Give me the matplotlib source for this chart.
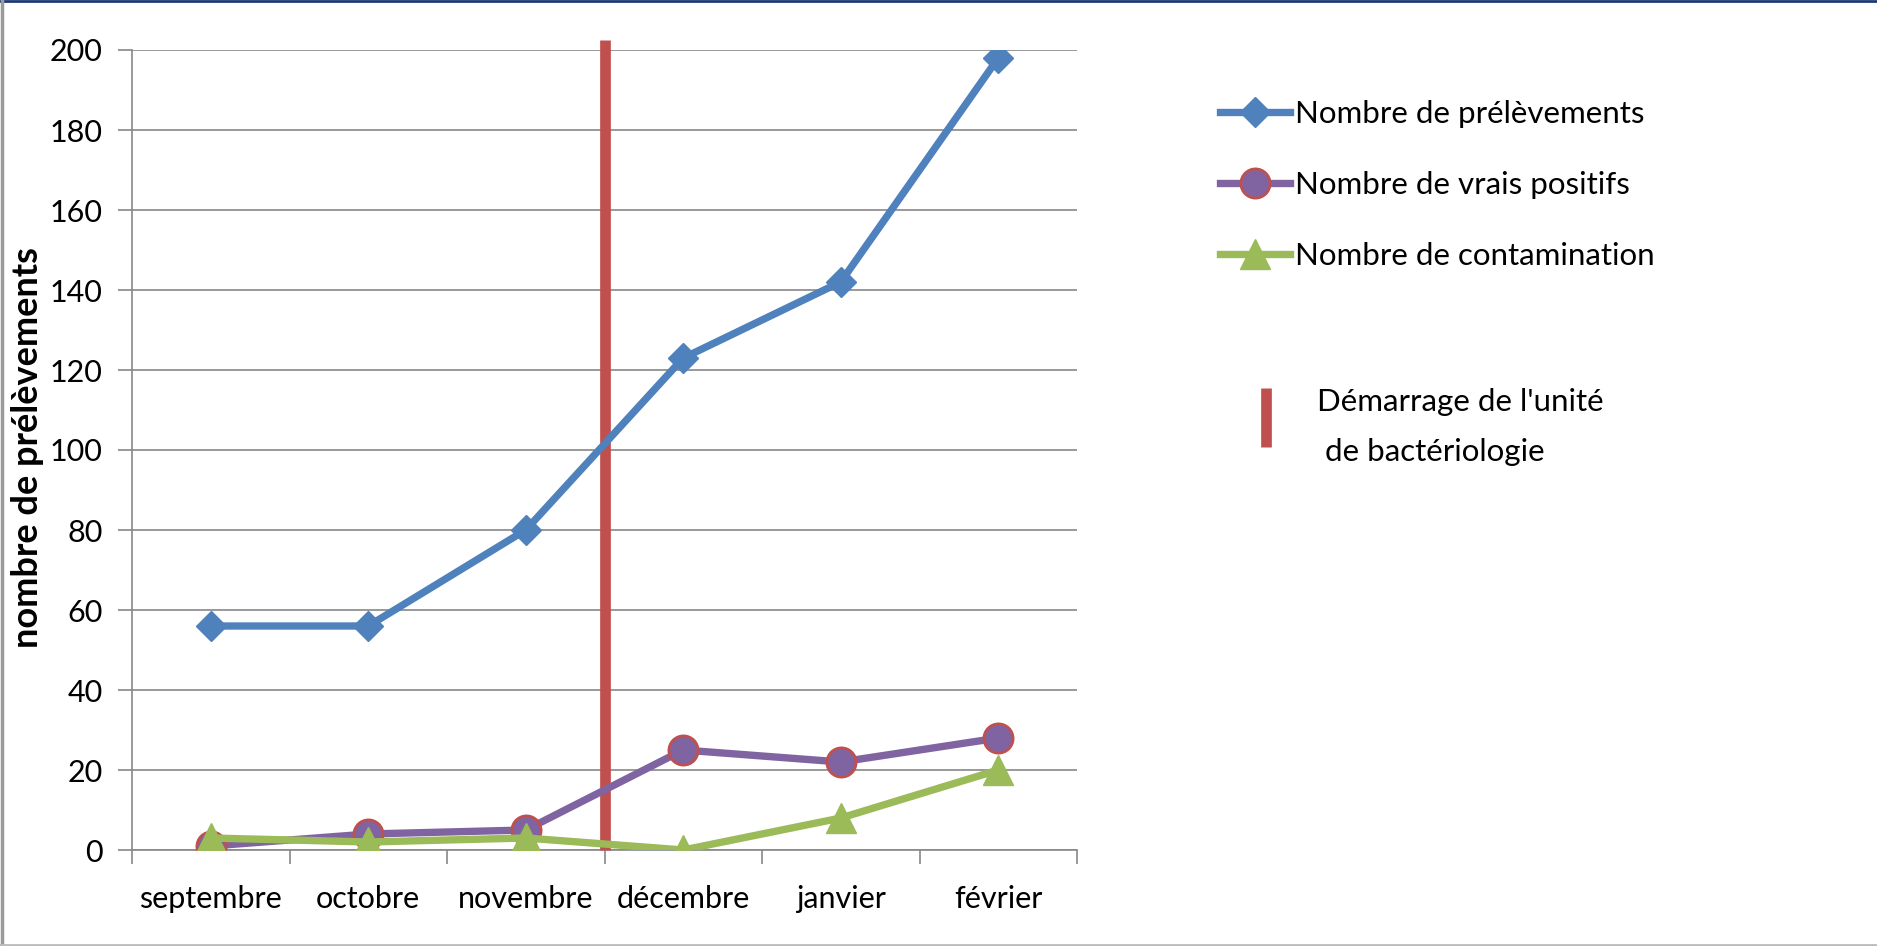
import matplotlib
matplotlib.use("Agg")
import matplotlib.pyplot as plt
from matplotlib.lines import Line2D

plt.rcParams['font.family'] = ['Lato', 'DejaVu Sans']

months = ["septembre", "octobre", "novembre", "décembre", "janvier", "février"]
prelevements = [56, 56, 80, 123, 142, 198]
vrais_positifs = [1, 4, 5, 25, 22, 28]
contamination = [3, 2, 3, 0, 8, 20]
yticks = [0, 20, 40, 60, 80, 100, 120, 140, 160, 180, 200]
start_position = 2.5  # between novembre and décembre

W, H = 1877, 946
fig = plt.figure(figsize=(W / 100, H / 100), dpi=100)
ax_l, ax_r, ax_b, ax_t = 132, 1077, 850, 50
ax = fig.add_axes([ax_l / W, 1 - ax_b / H, (ax_r - ax_l) / W, (ax_b - ax_t) / H])

x = list(range(len(months)))
blue, purple, green, red = "#4F81BD", "#8064A2", "#9BBB59", "#C0504D"
LW = 5.3

l1, = ax.plot(x, prelevements, color=blue, lw=LW, marker="D", ms=15.5,
              mfc=blue, mec=blue, label="Nombre de prélèvements", zorder=4)
l2, = ax.plot(x, vrais_positifs, color=purple, lw=LW, marker="o", ms=21,
              mfc=purple, mec=red, mew=2.0, label="Nombre de vrais positifs", zorder=5)
l3, = ax.plot(x, contamination, color=green, lw=LW, marker="^", ms=22,
              mfc=green, mec=green, label="Nombre de contamination", zorder=6)

ax.axvline(start_position, ymin=0, ymax=1.0125, color=red, lw=7.7, zorder=3,
           clip_on=False, solid_capstyle="butt")

ax.set_xlim(-0.5, len(months) - 0.5)
ax.set_ylim(0, 200)
ax.set_yticks(yticks)
ax.set_yticklabels([str(v) for v in yticks], fontsize=22)
ax.set_xticks([i - 0.5 for i in range(len(months) + 1)])
ax.set_xticklabels([])
ax.set_xticks(x, minor=True)
ax.set_xticklabels(months, minor=True, fontsize=22)
ax.tick_params(axis="x", which="minor", length=0, pad=25)
ax.tick_params(axis="x", which="major", length=10, width=1.2, color="#888888", direction="out")
ax.tick_params(axis="y", length=10, width=1.2, color="#888888", direction="out", pad=11)
ax.yaxis.grid(True, color="#888888", lw=1.2)
ax.set_axisbelow(True)
for s in ["top", "right"]:
    ax.spines[s].set_visible(False)
for s in ["left", "bottom"]:
    ax.spines[s].set_color("#888888")
    ax.spines[s].set_linewidth(1.2)

ax.set_ylabel("nombre de prélèvements", fontsize=26, fontweight="bold")
ax.yaxis.set_label_coords((44 - ax_l) / (ax_r - ax_l), (ax_b - 448) / (ax_b - ax_t))

fig.legend(handles=[l1, l2, l3], loc="upper left",
           bbox_to_anchor=(1220 / W, 1 - 100 / H), frameon=False,
           fontsize=22.5, handlelength=2.25, handletextpad=0.15,
           labelspacing=1.38, borderaxespad=0, borderpad=0)

fig.add_artist(Line2D([1266 / W, 1266 / W], [1 - 388 / H, 1 - 447 / H],
                      color=red, lw=7.7, solid_capstyle="butt", transform=fig.transFigure))
fig.text(1317 / W, 1 - 402 / H, "Démarrage de l'unité", fontsize=22.5, va="center", ha="left")
fig.text(1317 / W, 1 - 452 / H, " de bactériologie", fontsize=22.5, va="center", ha="left")

# outer frame
fig.add_artist(Line2D([0, 1], [1 - 1.5 / H, 1 - 1.5 / H], color="#1F3A73", lw=2, transform=fig.transFigure))
fig.add_artist(Line2D([1.5 / W, 1.5 / W], [0, 1], color="#9A9A9A", lw=2.5, transform=fig.transFigure))
fig.add_artist(Line2D([0, 1], [1.5 / H, 1.5 / H], color="#BBBBBB", lw=2, transform=fig.transFigure))

fig.savefig("out.png", dpi=100)
